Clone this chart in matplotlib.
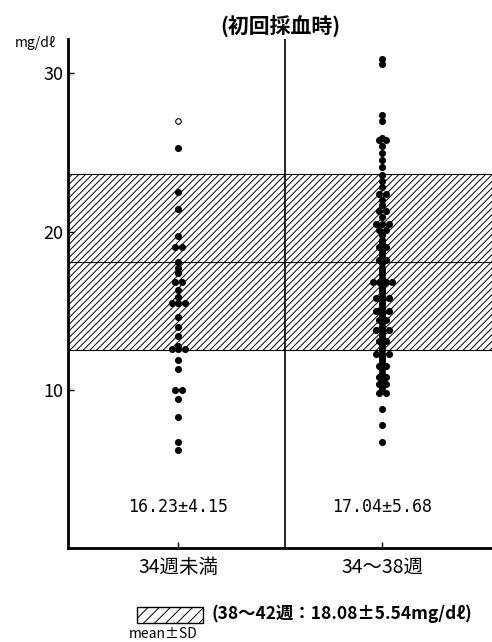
# Serum values at first blood draw, by gestational age group
import numpy as np
import matplotlib.pyplot as plt
from matplotlib.patches import Rectangle

plt.rcParams['font.family'] = ['Noto Sans CJK JP', 'DejaVu Sans']
plt.rcParams['hatch.linewidth'] = 0.7

categories = ['34週未満', '34～38週']
stats_labels = ['16.23±4.15', '17.04±5.68']
ref_mean = 18.08
ref_sd = 5.54
ref_label = '(38～42週：18.08±5.54mg/dℓ)'

# < 34 weeks (filled dots) and one open-circle value
values_lt34 = [25.3, 22.5, 21.4, 19.7, 19.0, 19.0, 18.1, 17.7, 17.4, 16.8, 16.8,
               16.3, 15.9, 15.5, 15.5, 15.5, 14.6, 14.0, 13.4, 12.8, 12.6, 12.6,
               12.6, 11.9, 11.3, 10.0, 10.0, 9.4, 8.3, 6.7, 6.2]
open_lt34 = [27.0]

# 34-38 weeks
values_34_38 = [30.9, 30.6, 27.4, 27.0, 25.9, 25.8, 25.8, 25.4, 25.0,
                24.5, 24.1, 23.6, 23.2, 22.8, 22.4, 22.4, 22.0, 21.7, 21.3, 21.3, 20.9,
                20.5, 20.5, 20.5, 20.1, 20.1, 19.8, 19.5, 19.3, 19.0, 19.0, 18.7, 18.5,
                18.2, 18.2, 18.0, 17.7, 17.5, 17.3, 17.1, 16.9, 16.8, 16.8, 16.8, 16.8,
                16.5, 16.3, 16.1, 15.9, 15.8, 15.8, 15.8, 15.6, 15.4, 15.2, 15.0, 15.0,
                15.0, 14.8, 14.6, 14.4, 14.4, 14.2, 14.0, 13.8, 13.8, 13.8, 13.6, 13.4,
                13.2, 13.1, 13.1, 12.9, 12.7, 12.5, 12.3, 12.3, 12.3, 12.1, 11.9,
                11.7, 11.5, 11.5, 11.3, 11.1, 10.8, 10.8, 10.6, 10.4, 10.4, 10.1,
                9.8, 9.8, 8.8, 7.8, 6.7]


def spread(vals, step=0.03):
    # put equal values side by side
    vals = np.array(vals)
    offs = np.zeros(len(vals))
    for v in np.unique(vals):
        idx = np.where(vals == v)[0]
        offs[idx] = (np.arange(len(idx)) - (len(idx) - 1) / 2) * step
    return offs


fig = plt.figure(figsize=(4.92, 6.42), dpi=100)
ax = fig.add_axes([0.138, 0.146, 0.862, 0.794])

# reference band (38-42 weeks mean +- SD)
ax.axhspan(ref_mean - ref_sd, ref_mean + ref_sd, facecolor='white', edgecolor='black',
           hatch='/////', linewidth=0.8, zorder=1)
ax.axhline(ref_mean, color='black', linewidth=0.8, zorder=2)
ax.axvline(0.52, color='black', linewidth=1.2, zorder=2)

for i, vals in enumerate([values_lt34, values_34_38]):
    ax.scatter(i + spread(vals), vals, s=26, color='black', linewidths=0, zorder=3)
ax.scatter(np.zeros(len(open_lt34)), open_lt34, s=16, facecolor='white',
           edgecolor='black', linewidths=0.8, zorder=3)

for i, lab in enumerate(stats_labels):
    ax.text(i, 2.6, lab, ha='center', va='center', fontsize=12,
            family=['DejaVu Sans Mono', 'DejaVu Sans'])

ax.set_xlim(-0.542, 1.537)
ax.set_ylim(0, 32.2)
ax.set_yticks([10, 20, 30])
ax.set_xticks([0, 1])
ax.set_xticklabels(categories, fontsize=14)
ax.tick_params(axis='y', direction='in', length=4, width=1, labelsize=13, pad=3)
ax.tick_params(axis='x', direction='in', length=4, width=1, pad=6)
for s in ['top', 'right']:
    ax.spines[s].set_visible(False)
for s in ['left', 'bottom']:
    ax.spines[s].set_linewidth(2)

fig.text(0.569, 0.958, '(初回採血時)', ha='center', va='center', fontsize=15,
         fontweight='bold')
fig.text(0.071, 0.933, 'mg/dℓ', ha='center', va='center', fontsize=10)

fig.add_artist(Rectangle((0.278, 0.0296), 0.135, 0.0249, transform=fig.transFigure,
                         facecolor='white', edgecolor='black', hatch='///',
                         linewidth=1))
fig.text(0.430, 0.044, ref_label, ha='left', va='center', fontsize=12.5,
         fontweight='bold')
fig.text(0.331, 0.012, 'mean±SD', ha='center', va='center', fontsize=10)

fig.savefig('out.png', dpi=100)
